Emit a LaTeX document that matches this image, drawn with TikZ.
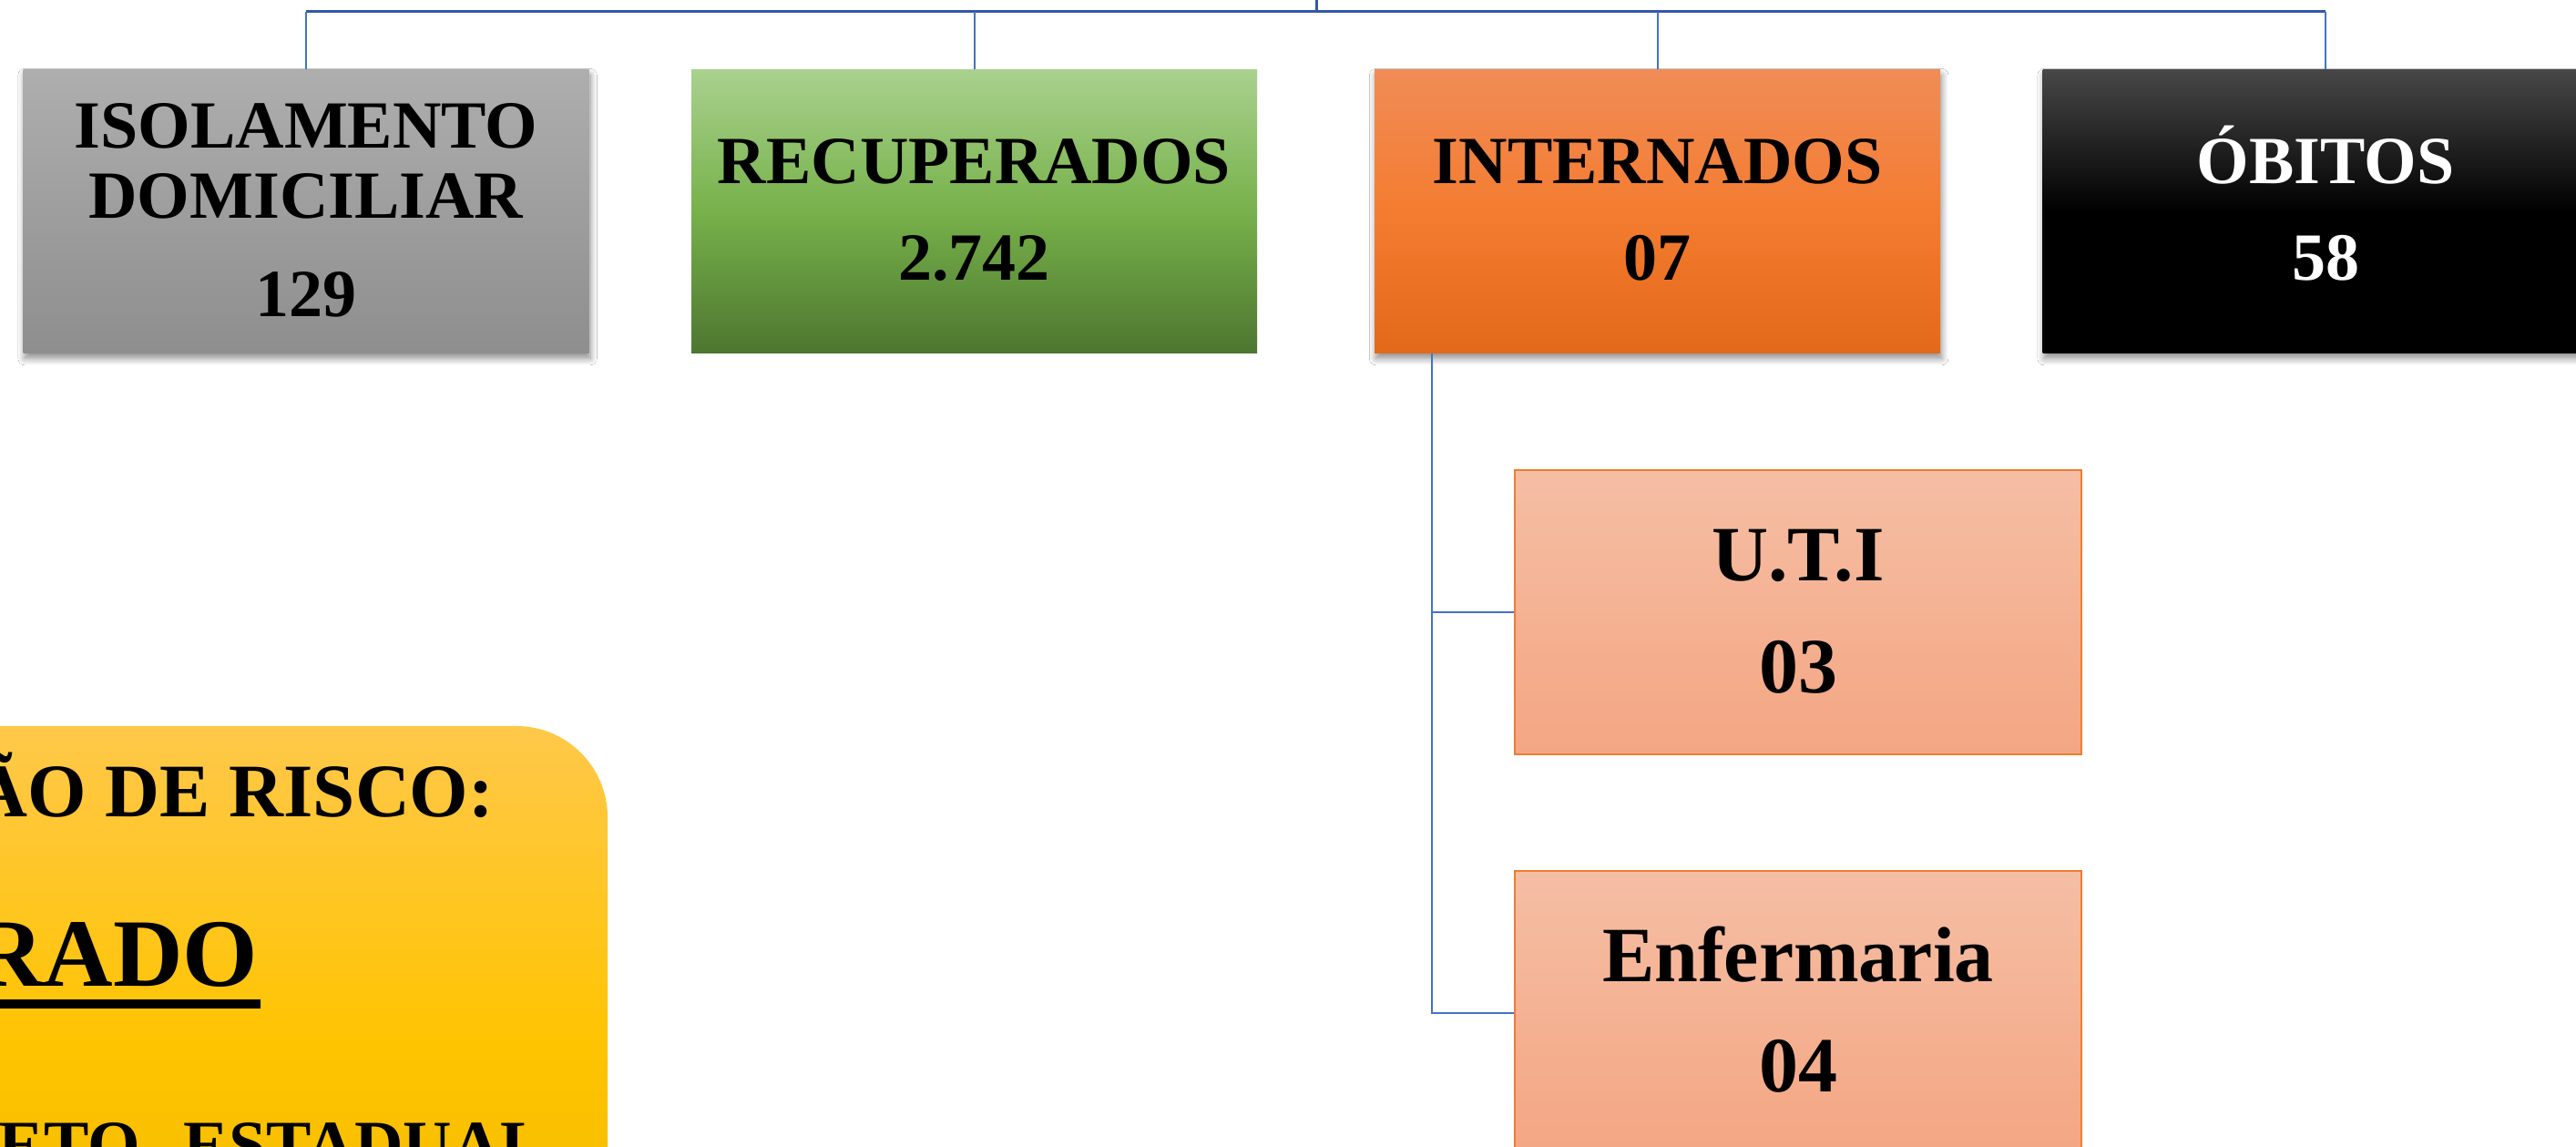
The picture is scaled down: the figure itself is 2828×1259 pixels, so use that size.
\documentclass[tikz,border=0pt]{standalone}
\usepackage{fontspec}
\setmainfont{Liberation Serif}
\usetikzlibrary{shadows.blur}
\definecolor{cblue}{HTML}{4472C4}
\definecolor{cbus}{HTML}{3358A5}
\definecolor{gtop}{HTML}{AEAEAE}
\definecolor{gbot}{HTML}{8E8E8E}
\definecolor{ntop}{HTML}{A9D18E}
\definecolor{nmid}{HTML}{77B14A}
\definecolor{nbot}{HTML}{4D7630}
\definecolor{otop}{HTML}{F08C57}
\definecolor{omid}{HTML}{F47C30}
\definecolor{obot}{HTML}{E3691A}
\definecolor{ktop}{HTML}{474747}
\definecolor{ptop}{HTML}{F5BEA4}
\definecolor{pbot}{HTML}{F4A683}
\definecolor{pedge}{HTML}{ED7D31}
\definecolor{ytop}{HTML}{FFC84A}
\definecolor{ymid}{HTML}{FFC400}
\definecolor{ybot}{HTML}{EDB800}
\tikzset{
  conn/.style={draw=cblue, line width=0.5pt},
  bus/.style={draw=cbus, line width=0.75pt},
  topbox/.style={rectangle, inner sep=0pt, minimum width=155.25pt, minimum height=77.75pt},
  shad/.style={blur shadow={shadow xshift=0.4pt, shadow yshift=-1.4pt, shadow blur radius=1.8pt, shadow opacity=45, shadow blur steps=10}},
  subbox/.style={rectangle, inner sep=0pt, minimum width=155.5pt, minimum height=78pt, draw=pedge, line width=0.5pt, top color=ptop, bottom color=pbot},
  lbl/.style={inner sep=0pt, anchor=base, font=\fontsize{18.5pt}{22pt}\selectfont\bfseries},
  slbl/.style={inner sep=0pt, anchor=base, font=\fontsize{21.5pt}{25pt}\selectfont\bfseries},
}
\begin{document}
\begin{tikzpicture}[x=0.25pt, y=-0.25pt]
\useasboundingbox (0,0) rectangle (2828,1259);
\clip (0,0) rectangle (2828,1259);
\fill[white] (0,0) rectangle (2828,1259);

% top boxes
\node[topbox, shad, top color=gtop, bottom color=gbot] (iso) at (336,232.5) {};
\node[topbox, top color=ntop, bottom color=nbot, middle color=nmid] (rec) at (1069.5,232.5) {};
\node[topbox, shad, top color=otop, bottom color=obot, middle color=omid] (int) at (1819.5,232.5) {};
\node[topbox, shad, top color=ktop, bottom color=black, middle color=black] (obi) at (2553,232.5) {};

% labels
\node[lbl] (isoA) at (336,163) {ISOLAMENTO};
\node[lbl] (isoB) at (336,240) {DOMICILIAR};
\node[lbl] (isoC) at (336,348) {129};
\node[lbl] (recA) at (1069.5,202) {RECUPERADOS};
\node[lbl] (recB) at (1069.5,308) {2.742};
\node[lbl] (intA) at (1819.5,202) {INTERNADOS};
\node[lbl] (intB) at (1819.5,308) {07};
\node[lbl, text=white] (obiA) at (2553,202) {ÓBITOS};
\node[lbl, text=white] (obiB) at (2553,308) {58};

% bus connectors
\coordinate (top) at (1445,0);
\coordinate (hub) at (1445,13);
\draw[bus] (top) -- (hub);
\draw[bus] (iso.north |- hub) -- (obi.north |- hub);
\draw[conn] (iso.north) -- (iso.north |- hub);
\draw[conn] (rec.north) -- (rec.north |- hub);
\draw[conn] (int.north) -- (int.north |- hub);
\draw[conn] (obi.north) -- (obi.north |- hub);

% sub boxes
\node[subbox] (uti) at (1974,672) {};
\node[subbox] (enf) at (1974,1112) {};
\node[slbl] (utiA) at (1974,638) {U.T.I};
\node[slbl] (utiB) at (1974,761) {03};
\node[slbl] (enfA) at (1974,1078) {Enfermaria};
\node[slbl] (enfB) at (1974,1199) {04};
\coordinate (trunk) at (1572,388);
\draw[conn] (trunk) |- (uti.west);
\draw[conn] (trunk) |- (enf.west);

% risk box
\node[rectangle, rounded corners=25pt, inner sep=0pt, minimum width=216.75pt, minimum height=175.75pt,
      top color=ytop, bottom color=ybot, middle color=ymid] (risk) at (233.5,1148.5) {};
\node[inner sep=0pt, anchor=base east, font=\fontsize{20.75pt}{24pt}\selectfont\bfseries] (riskA) at (543,897) {ÃO DE RISCO:};
\node[inner sep=0pt, anchor=base east, font=\fontsize{26.5pt}{30pt}\selectfont\bfseries] (riskB) at (284,1083) {RADO};
\fill[black] (-10,1097) rectangle (286,1107);
\node[inner sep=0pt, anchor=base east, font=\fontsize{18.5pt}{22pt}\selectfont\bfseries] (riskC) at (600,1282) {RETO\hspace{12pt}ESTADUAL};
\end{tikzpicture}
\end{document}
